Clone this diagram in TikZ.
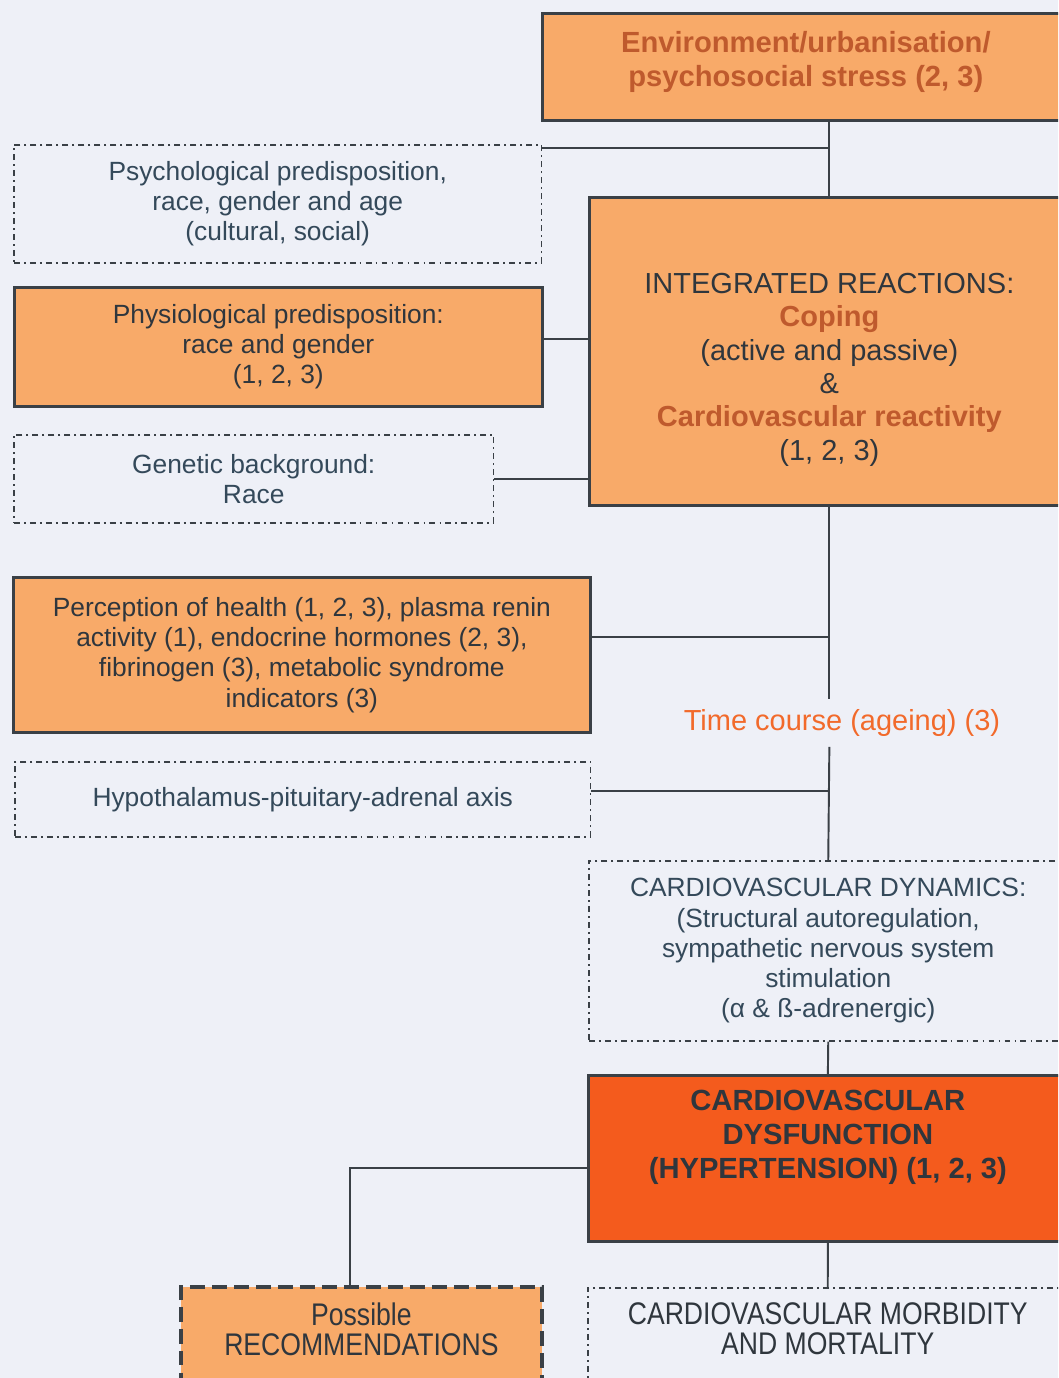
\documentclass[tikz,border=0pt]{standalone}
\usepackage{fontspec}
\setmainfont{Liberation Sans}
\newfontfamily\narrowfont[FakeStretch=0.85]{Liberation Sans}
\usetikzlibrary{positioning}
\definecolor{mybg}{HTML}{EEF0F7}
\definecolor{myorange}{HTML}{F8AA69}
\definecolor{myred}{HTML}{F45B1D}
\definecolor{mybrown}{HTML}{BF5A2D}
\definecolor{mytime}{HTML}{F26A2B}
\definecolor{darkgray}{HTML}{2F363D}
\definecolor{myslate}{HTML}{34495A}
\definecolor{myline}{HTML}{3A4046}
\newcommand{\txtfont}{\fontsize{15pt}{17.2pt}\selectfont}
\newcommand{\headfont}{\fontsize{16.5pt}{19pt}\selectfont}
\newcommand{\strongfont}{\fontsize{16.6pt}{19.3pt}\selectfont\bfseries}
\newcommand{\narrowtxt}{\narrowfont\fontsize{17.8pt}{17.1pt}\selectfont}

\begin{document}
\begin{tikzpicture}[
  x=0.02cm, y=-0.02cm,
  box/.style={rectangle, draw=myline, anchor=north west, align=center, inner sep=0pt, font=\txtfont},
  orangebox/.style={box, fill=myorange, line width=1.6pt, text=darkgray},
  redbox/.style={box, fill=myred, line width=1.6pt, text=darkgray},
  dotbox/.style={box, line width=0.9pt, dash pattern=on 3.4pt off 2.3pt on 1.1pt off 2.3pt, text=myslate},
  dashbox/.style={box, fill=myorange, line width=2.2pt, dash pattern=on 8.5pt off 4pt, text=darkgray},
  conn/.style={draw=myline, line width=1.1pt},
]

\useasboundingbox (0,0) rectangle (1058,1378);
\clip (0,0) rectangle (1058,1378);
\fill[mybg] (0,0) rectangle (1058,1378);

%% Stressors
\node[orangebox, minimum width=10.54cm, minimum height=2.14cm, font=\strongfont, text=mybrown, text depth=0.32cm] (env) at (541,12) {Environment/urbanisation/\\psychosocial stress (2, 3)};

%% Predispositions
\node[dotbox, minimum width=10.56cm, minimum height=2.36cm] (psych) at (13,144) {Psychological predisposition,\\race, gender and age\\(cultural, social)};
\node[orangebox, minimum width=10.56cm, minimum height=2.38cm] (physio) at (13,286) {Physiological predisposition:\\race and gender\\(1, 2, 3)};
\node[dotbox, minimum width=9.6cm, minimum height=1.76cm] (genetic) at (13,434) {Genetic background:\\Race};

%% Integrated reactions
\node[orangebox, minimum width=9.6cm, minimum height=6.16cm, font=\headfont] (integ) at (588,196) {\rule{0pt}{1.14cm}INTEGRATED REACTIONS:\\\textbf{\textcolor{mybrown}{Coping}}\\(active and passive)\\\&\\\textbf{\textcolor{mybrown}{Cardiovascular reactivity}}\\(1, 2, 3)};

%% Mediators
\node[orangebox, minimum width=11.54cm, minimum height=3.1cm] (percept) at (12,576) {Perception of health (1, 2, 3), plasma renin\\activity (1), endocrine hormones (2, 3),\\fibrinogen (3), metabolic syndrome\\indicators (3)};
\node[font=\headfont, text=mytime, inner sep=0.2cm] (timecourse) at (842,723) {Time course (ageing) (3)};
\node[dotbox, minimum width=11.52cm, minimum height=1.5cm] (hypo) at (14,761) {Hypothalamus-pituitary-adrenal axis};

%% Outcome
\node[dotbox, minimum width=9.58cm, minimum height=3.6cm] (dynamics) at (588,860) {CARDIOVASCULAR DYNAMICS:\\(Structural autoregulation,\\sympathetic nervous system\\stimulation\\(α \& ß-adrenergic)};
\node[redbox, minimum width=9.58cm, minimum height=3.32cm, font=\strongfont, text depth=0.96cm] (dysfunc) at (587,1074) {CARDIOVASCULAR\\DYSFUNCTION\\(HYPERTENSION) (1, 2, 3)};
\node[dashbox, minimum width=7.22cm, minimum height=2.3cm, font=\narrowtxt, text depth=0.62cm] (recomm) at (179,1285) {Possible\\RECOMMENDATIONS};
\node[dotbox, minimum width=9.6cm, minimum height=2.26cm, font=\narrowtxt, text=darkgray, text depth=0.62cm] (morbid) at (587,1287) {CARDIOVASCULAR MORBIDITY\\AND MORTALITY};

%% Lines
\draw[conn] (integ.north) -- (integ.north |- env.south);
\draw[conn] ([yshift=-0.08cm]psych.north east) -- ([yshift=-0.08cm]psych.north east -| integ.north);
\draw[conn] ([yshift=0.15cm]physio.east) -- ([yshift=0.15cm]physio.east -| integ.west);
\draw[conn] (genetic.east) -- (genetic.east -| integ.west);
\draw[conn] (integ.south) -- (integ.south |- timecourse.north);
\draw[conn] (integ.south |- timecourse.south) -- (dynamics.north);
\draw[conn] ([yshift=0.35cm]percept.east) -- ([yshift=0.35cm]percept.east -| integ.south);
\draw[conn] ([yshift=0.17cm]hypo.east) -- ([yshift=0.17cm]hypo.east -| integ.south);
\draw[conn] (dynamics.south) -- (dysfunc.north);
\draw[conn] ([yshift=-0.2cm]dysfunc.west) -| ([xshift=-0.23cm]recomm.north);
\draw[conn] (dysfunc.south) -- (morbid.north);

\end{tikzpicture}
\end{document}
